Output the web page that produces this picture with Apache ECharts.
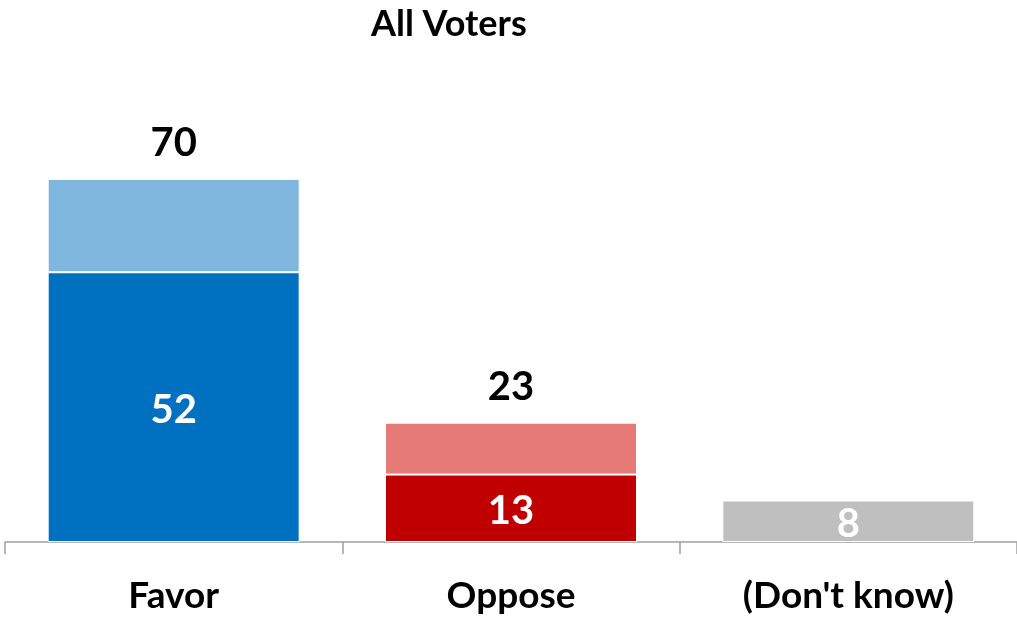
<!DOCTYPE html>
<html>
<head>
<meta charset="utf-8">
<script src="https://cdn.jsdelivr.net/npm/echarts@6/dist/echarts.min.js"></script>
<style>
  html, body { margin: 0; padding: 0; background: #fff; }
  #chart { width: 1017px; height: 621px; }
</style>
</head>
<body>
<div id="chart"></div>
<script>
const categories = ['Favor', 'Oppose', "(Don't know)"];
const strongValues = [52, 13, 8];
const somewhatValues = [18, 10, null];
const totalValues = [70, 23, null];
const baseColors = ['#0070C0', '#C00000', '#BFBFBF'];
const topColors = ['#7FB6DE', '#E57A77', '#BFBFBF'];

const FONT = 'Lato';

const chart = echarts.init(document.getElementById('chart'), null, { renderer: 'canvas' });

chart.setOption({
  animation: false,
  backgroundColor: '#ffffff',
  title: {
    text: 'All Voters',
    left: 366,
    top: 1,
    textStyle: { fontFamily: FONT, fontWeight: 'bold', fontSize: 36, color: '#000' }
  },
  grid: { left: 5, right: -3, top: 127, bottom: 79, containLabel: false },
  xAxis: {
    type: 'category',
    data: categories,
    axisLine: { lineStyle: { color: '#A0A0A0', width: 1.5 } },
    axisTick: { show: true, length: 12, lineStyle: { color: '#A0A0A0', width: 1.5 } },
    axisLabel: {
      margin: 36,
      fontFamily: FONT, fontWeight: 'bold', fontSize: 37, color: '#000'
    }
  },
  yAxis: {
    type: 'value', min: 0, max: 80, show: false,
    splitLine: { show: false }
  },
  series: [
    {
      name: 'Strongly',
      type: 'bar',
      stack: 'total',
      barWidth: 252,
      data: strongValues.map((v, i) => ({ value: v, itemStyle: { color: baseColors[i] } })),
      itemStyle: { borderColor: '#ffffff', borderWidth: 1 },
      label: {
        show: true, position: 'inside', offset: [0, 3],
        fontFamily: FONT, fontWeight: 'bold', fontSize: 40, color: '#ffffff'
      }
    },
    {
      name: 'Somewhat',
      type: 'bar',
      stack: 'total',
      barWidth: 252,
      data: somewhatValues.map((v, i) => ({ value: v, itemStyle: { color: topColors[i] } })),
      itemStyle: { borderColor: '#ffffff', borderWidth: 1 },
      label: {
        show: true, position: 'top', distance: 16,
        fontFamily: FONT, fontWeight: 'bold', fontSize: 40, color: '#000',
        formatter: p => (totalValues[p.dataIndex] == null ? '' : String(totalValues[p.dataIndex]))
      }
    }
  ]
});
</script>
</body>
</html>
